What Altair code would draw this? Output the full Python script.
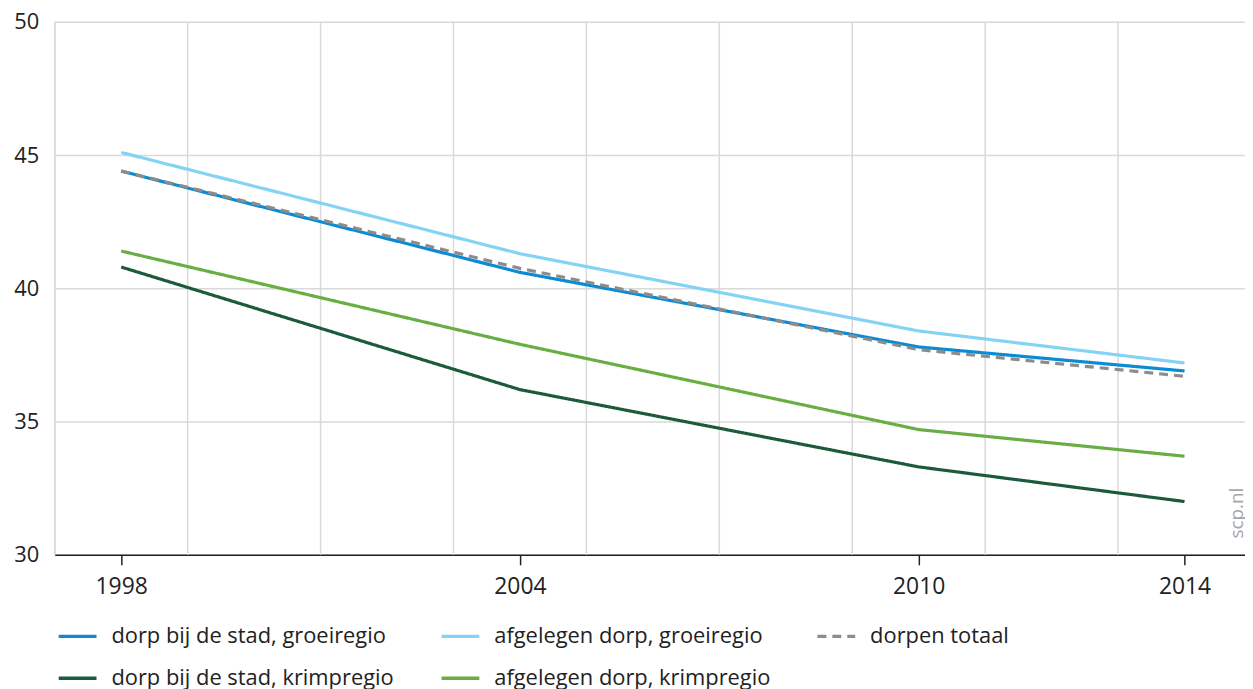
import altair as alt
import pandas as pd

years = [1998, 2004, 2010, 2014]
series_names = [
    "dorp bij de stad, groeiregio",
    "afgelegen dorp, groeiregio",
    "dorpen totaal",
    "dorp bij de stad, krimpregio",
    "afgelegen dorp, krimpregio",
]
dorp_stad_groei = [44.4, 40.6, 37.8, 36.9]
afgelegen_groei = [45.1, 41.3, 38.4, 37.2]
dorpen_totaal = [44.4, 40.75, 37.7, 36.7]
dorp_stad_krimp = [40.8, 36.2, 33.3, 32.0]
afgelegen_krimp = [41.4, 37.9, 34.7, 33.7]

colors = ["#0a8bd3", "#84d3f5", "#8c8c8c", "#1b5a3a", "#69ae45"]
dashes = [[1, 0], [1, 0], [9, 6], [1, 0], [1, 0]]

grid_years = [1997, 1999, 2001, 2003, 2005, 2007, 2009, 2011, 2013]
label_years = [1998, 2004, 2010, 2014]
y_ticks = [30, 35, 40, 45, 50]

values_by_series = [dorp_stad_groei, afgelegen_groei, dorpen_totaal, dorp_stad_krimp, afgelegen_krimp]
rows = []
for name, vals in zip(series_names, values_by_series):
    for yr, v in zip(years, vals):
        rows.append({"jaar": yr, "waarde": v, "reeks": name})
df = pd.DataFrame(rows)

FONT = "Open Sans"
W, H = 1197, 536
xscale = alt.Scale(domain=[1997, 2014.91], nice=False, zero=False)
yscale = alt.Scale(domain=[30, 50], nice=False, zero=False)

color = alt.Color(
    "reeks:N",
    scale=alt.Scale(domain=series_names, range=colors),
    sort=series_names,
    legend=alt.Legend(
        title=None,
        orient="none",
        legendX=2,
        legendY=597,
        columns=3,
        direction="horizontal",
        symbolType="stroke",
        symbolSize=1444,
        symbolStrokeWidth=3.5,
        labelFont=FONT,
        labelFontSize=22,
        labelColor="#222222",
        labelOffset=13,
        columnPadding=40,
        rowPadding=10,
        labelLimit=400,
    ),
)
dash = alt.StrokeDash(
    "reeks:N",
    scale=alt.Scale(domain=series_names, range=dashes),
    sort=series_names,
    legend=None,
)

x_axis = alt.Axis(
    values=label_years,
    format="d",
    grid=False,
    title=None,
    domainColor="#222222",
    domainWidth=1.5,
    tickColor="#222222",
    tickWidth=1.5,
    tickSize=10,
    labelFont=FONT,
    labelFontSize=23,
    labelColor="#222222",
    labelPadding=11,
)
x_main = alt.X("jaar:Q", scale=xscale, axis=x_axis)
y_main = alt.Y(
    "waarde:Q",
    scale=yscale,
    axis=alt.Axis(
        values=y_ticks,
        title=None,
        domain=False,
        ticks=False,
        gridColor="#d9d9d9",
        gridWidth=1.5,
        labelFont=FONT,
        labelFontSize=22,
        labelColor="#222222",
        labelPadding=16,
        labelBaseline="middle",
    ),
)

grid_df = pd.DataFrame({"jaar": grid_years})
vgrid = alt.Chart(grid_df).mark_rule(color="#d9d9d9", strokeWidth=1.5).encode(
    x=x_main,
)

solid = alt.Chart(df).transform_filter(
    alt.datum.reeks != "dorpen totaal"
).mark_line(strokeWidth=3.2).encode(
    x=x_main, y=y_main, color=color, strokeDash=dash,
)
dashed = alt.Chart(df).transform_filter(
    alt.datum.reeks == "dorpen totaal"
).mark_line(strokeWidth=3.2).encode(
    x=x_main, y=y_main, color=color, strokeDash=dash,
)

watermark = alt.Chart(pd.DataFrame({"t": ["scp.nl"]})).mark_text(
    angle=270, font=FONT, fontSize=19, color="#a6a6a6", align="center", baseline="middle"
).encode(
    text="t:N", x=alt.value(1189), y=alt.value(494),
)

chart = alt.layer(vgrid, solid, dashed, watermark).properties(
    width=W, height=H,
    padding={"left": 47, "top": 12, "right": 0, "bottom": 135},
    autosize=alt.AutoSizeParams(type="none"),
).configure_view(stroke=None).configure(background="white")

chart.save("out.html", embed_options={"renderer": "svg", "actions": False})
